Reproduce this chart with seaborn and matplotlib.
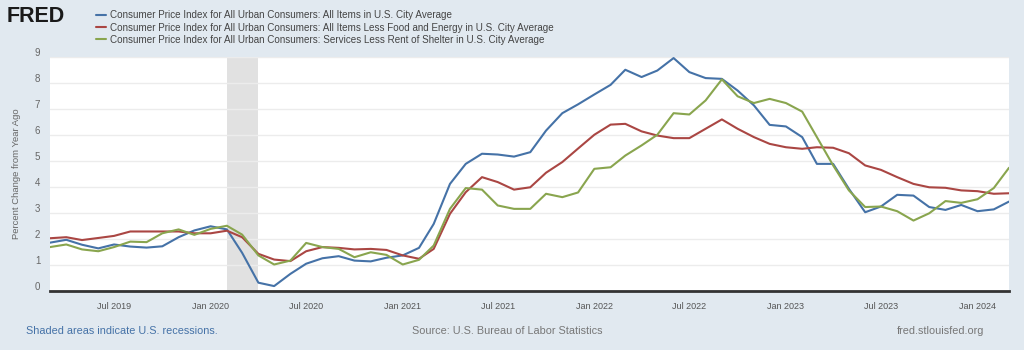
import numpy as np
import pandas as pd
import matplotlib
matplotlib.use("Agg")
import matplotlib.pyplot as plt
import seaborn as sns

# ---------------- data ----------------
dates = pd.date_range("2019-03-01", periods=61, freq="MS")

all_items = [
    1.84, 1.95, 1.76, 1.62, 1.77, 1.69, 1.65, 1.70, 2.05, 2.31,   # Mar-Dec 2019
    2.47, 2.35, 1.45, 0.30, 0.17, 0.64, 1.03, 1.24, 1.32, 1.15, 1.12, 1.26,  # 2020
    1.35, 1.64, 2.56, 4.10, 4.87, 5.26, 5.23, 5.15, 5.32, 6.15, 6.82, 7.16,  # 2021
    7.54, 7.91, 8.49, 8.21, 8.46, 8.94, 8.40, 8.17, 8.14, 7.69, 7.12, 6.37,  # 2022
    6.31, 5.90, 4.87, 4.87, 3.91, 3.01, 3.23, 3.68, 3.65, 3.21, 3.10, 3.29,  # 2023
    3.05, 3.12, 3.42,                                                       # 2024
]
core = [
    2.01, 2.05, 1.94, 2.02, 2.10, 2.27, 2.27, 2.27, 2.27, 2.20,
    2.20, 2.30, 2.05, 1.41, 1.19, 1.13, 1.51, 1.67, 1.64, 1.58, 1.60, 1.56,
    1.35, 1.22, 1.60, 2.95, 3.78, 4.36, 4.17, 3.88, 3.97, 4.53, 4.94, 5.46,
    5.99, 6.38, 6.41, 6.12, 5.96, 5.86, 5.86, 6.22, 6.58, 6.22, 5.90, 5.64,
    5.51, 5.45, 5.51, 5.49, 5.28, 4.81, 4.64, 4.36, 4.10, 3.97, 3.95, 3.85,
    3.82, 3.72, 3.74,
]
services_ex_shelter = [
    1.67, 1.77, 1.58, 1.51, 1.67, 1.88, 1.86, 2.20, 2.35, 2.14,
    2.37, 2.49, 2.15, 1.35, 1.00, 1.15, 1.83, 1.67, 1.60, 1.28, 1.47, 1.37,
    1.00, 1.18, 1.73, 3.14, 3.94, 3.88, 3.27, 3.14, 3.14, 3.72, 3.59, 3.77,
    4.68, 4.74, 5.19, 5.58, 5.99, 6.82, 6.77, 7.31, 8.12, 7.47, 7.21, 7.37,
    7.21, 6.88, 5.90, 4.81, 3.85, 3.21, 3.23, 3.05, 2.69, 2.97, 3.44, 3.37,
    3.51, 3.94, 4.72,
]
series_names = [
    "Consumer Price Index for All Urban Consumers: All Items in U.S. City Average",
    "Consumer Price Index for All Urban Consumers: All Items Less Food and Energy in U.S. City Average",
    "Consumer Price Index for All Urban Consumers: Services Less Rent of Shelter in U.S. City Average",
]
series_colors = ["#4572a7", "#aa4643", "#89a54e"]
recession_start = pd.Timestamp("2020-02-01")
recession_end = pd.Timestamp("2020-04-01")
tick_dates = pd.date_range("2019-07-01", "2024-01-01", freq="6MS")
tick_labels = [d.strftime("%b %Y") for d in tick_dates]

df = pd.concat([
    pd.DataFrame({"date": dates, "value": vals, "series": name})
    for name, vals in zip(series_names, [all_items, core, services_ex_shelter])
])

# ---------------- figure ----------------
sns.set_theme(style="white")
plt.rcParams["font.family"] = ["Liberation Sans", "DejaVu Sans"]
bg = "#e1e9f0"
fig = plt.figure(figsize=(10.24, 3.5), dpi=100, facecolor=bg)
ax = fig.add_axes([50 / 1024, 59.5 / 350, 959 / 1024, 234 / 350])
ax.set_facecolor("white")

ax.axvspan(recession_start, recession_end, color="#e1e1e1", zorder=0, lw=0)

sns.lineplot(data=df, x="date", y="value", hue="series", palette=series_colors,
             linewidth=1.5, ax=ax, legend=True, zorder=3)

ax.set_xlim(dates[0], dates[-1])
ax.set_ylim(0, 9)
ax.set_yticks(range(0, 10))
ax.grid(axis="y", color="#ececec", lw=1)
ax.set_axisbelow(True)
ax.set_xticks(tick_dates)
ax.set_xticklabels(tick_labels)
ax.tick_params(axis="x", length=6, width=0.8, color="#ccd6eb", labelsize=6.5,
               labelcolor="#555555", pad=2, direction="out")
ax.tick_params(axis="y", length=0, labelsize=7, labelcolor="#666666", pad=7)
for lab in ax.get_yticklabels():
    lab.set_verticalalignment("baseline")
for s in ["top", "right", "left"]:
    ax.spines[s].set_visible(False)
ax.spines["bottom"].set_color("#333333")
ax.spines["bottom"].set_linewidth(2)
ax.set_xlabel("")
ax.set_ylabel("Percent Change from Year Ago", fontsize=6.8, color="#666666", labelpad=10)

handles, labels = ax.get_legend_handles_labels()
leg = ax.legend(handles, labels, loc="upper left", bbox_to_anchor=(96 / 1024, 1 - 10.5 / 350),
                bbox_transform=fig.transFigure, frameon=False, fontsize=7.15,
                handlelength=1.0, handletextpad=0.45, labelspacing=0.22,
                borderpad=0, borderaxespad=0)
for t in leg.get_texts():
    t.set_color("#444444")
for h in leg.get_lines():
    h.set_linewidth(1.5)

fig.text(7 / 1024, 1 - 17 / 350, "FRED", fontsize=15.5, fontweight="bold",
         color="#1a1a1a", va="center", ha="left")

fig.text(26 / 1024, 1 - 331 / 350, "Shaded areas indicate U.S. recessions.",
         fontsize=7.8, color="#4572a7", va="center", ha="left")
fig.text(507 / 1024, 1 - 331 / 350, "Source: U.S. Bureau of Labor Statistics",
         fontsize=7.8, color="#777777", va="center", ha="center")
fig.text(984 / 1024, 1 - 331 / 350, "fred.stlouisfed.org",
         fontsize=7.8, color="#777777", va="center", ha="right")

fig.savefig("out.png", dpi=100, facecolor=bg)
